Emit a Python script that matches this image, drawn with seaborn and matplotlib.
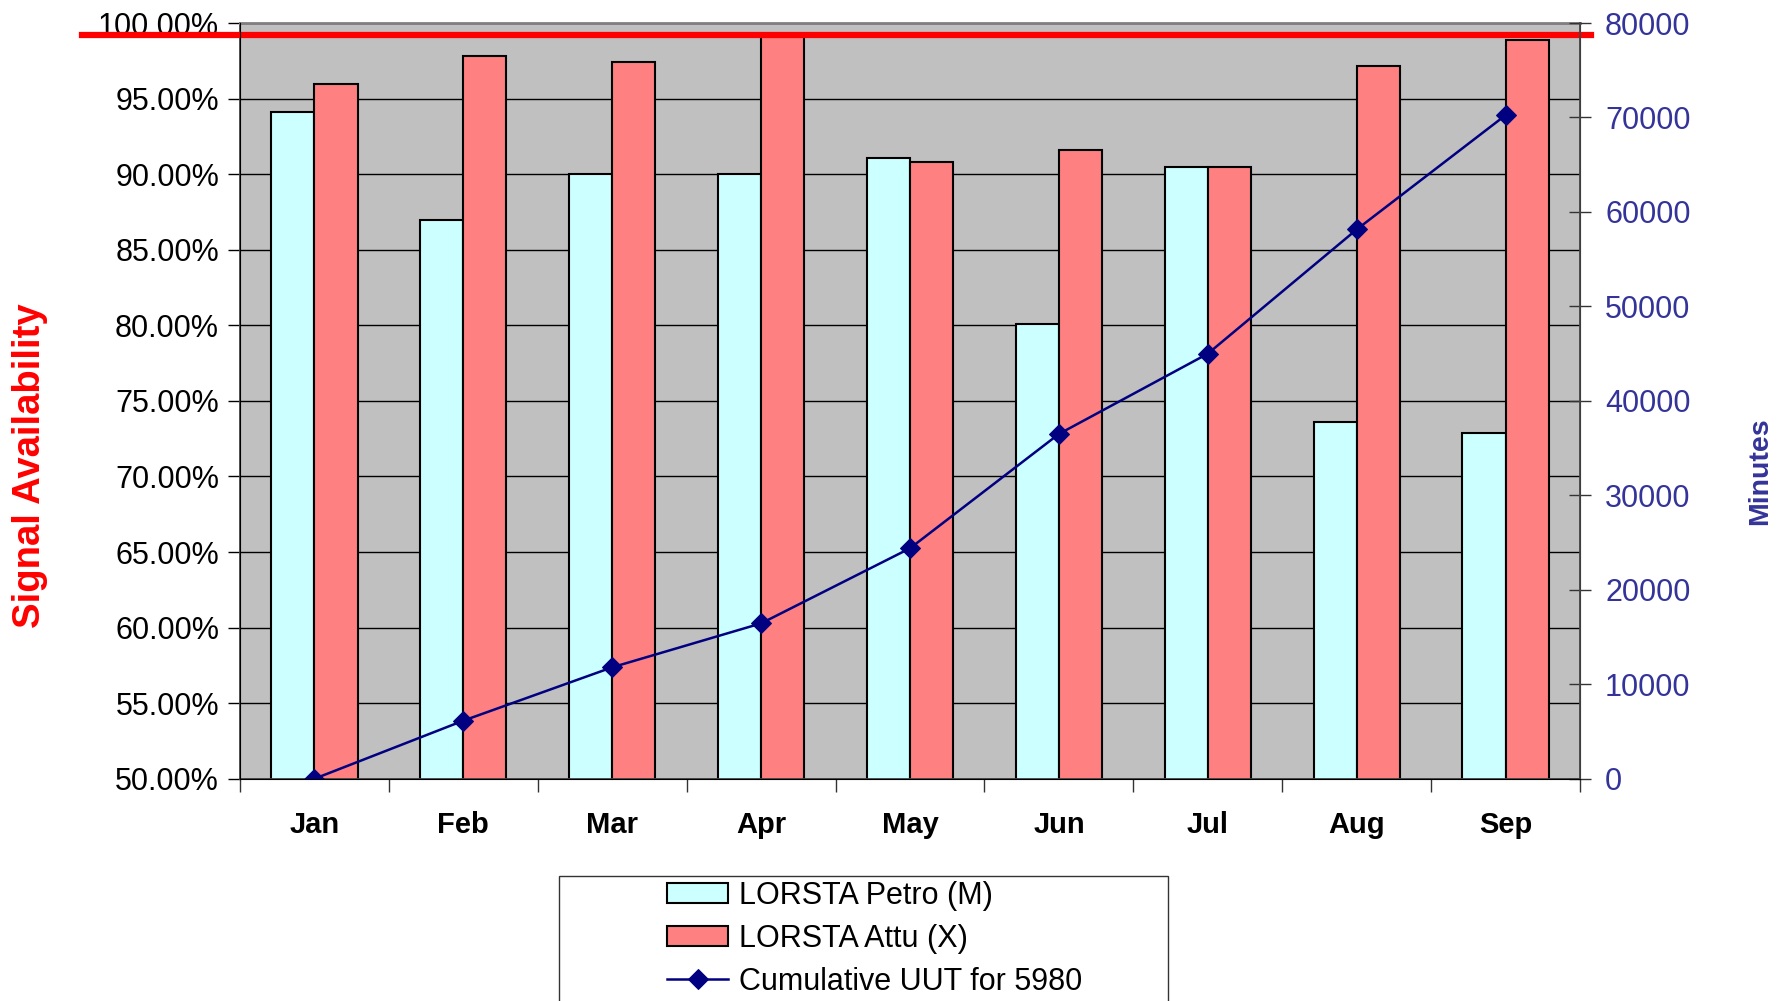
import numpy as np
import pandas as pd
import matplotlib.pyplot as plt
from matplotlib.patches import Rectangle
from matplotlib.ticker import FixedLocator, PercentFormatter
import seaborn as sns

# data
months = ['Jan', 'Feb', 'Mar', 'Apr', 'May', 'Jun', 'Jul', 'Aug', 'Sep']
petro = [94.1, 86.95, 90.0, 90.0, 91.1, 80.1, 90.45, 73.6, 72.85]
attu = [95.95, 97.8, 97.45, 99.2, 90.8, 91.6, 90.45, 97.15, 98.9]
cumulative_uut = [0, 6150, 11800, 16450, 24400, 36500, 45000, 58150, 70250]
target = 99.2
series_names = ['LORSTA Petro (M)', 'LORSTA Attu (X)']
line_name = 'Cumulative UUT for 5980'

plt.rcParams['font.family'] = ['Liberation Sans', 'DejaVu Sans']

df = pd.DataFrame({
    'month': months * 2,
    'value': petro + attu,
    'series': [series_names[0]] * len(months) + [series_names[1]] * len(months),
})

fig = plt.figure(figsize=(17.84, 10.01), dpi=100)
ax = fig.add_axes([0.1345, 0.222, 0.7512, 0.755])
ax.set_facecolor('#C0C0C0')

sns.barplot(data=df, x='month', y='value', hue='series', order=months,
            palette=['#CCFFFF', '#FF8080'], saturation=1, width=0.58,
            edgecolor='black', linewidth=1.5, errorbar=None, ax=ax)
ax.set_ylim(50, 100)
ax.set_xlim(-0.5, len(months) - 0.5)
ax.yaxis.set_major_locator(FixedLocator(np.arange(50, 101, 5)))
ax.yaxis.set_major_formatter(PercentFormatter(decimals=2))
ax.yaxis.grid(True, color='black', linewidth=1)
ax.xaxis.grid(False)
ax.set_axisbelow(True)

# target line, runs out past the plot on the left
ax.axhline(target, xmin=-0.118, xmax=1.008, color='#FF0000', linewidth=4.5,
           clip_on=False, zorder=5)

# ticks on category boundaries, labels in the middle
ax.xaxis.set_minor_locator(FixedLocator(np.arange(-0.5, len(months), 1)))
ax.tick_params(axis='x', which='major', length=0, pad=23, labelsize=21)
ax.tick_params(axis='x', which='minor', length=9, width=1, direction='out', color='#333333')
for lab in ax.get_xticklabels():
    lab.set_fontweight('bold')
ax.tick_params(axis='y', length=9, width=1, direction='out', pad=6, labelsize=22,
               labelcolor='black')
ax.set_xlabel('')
ax.set_ylabel('Signal Availability', color='#FF0000', fontsize=27.5, fontweight='bold')
ax.yaxis.set_label_coords(-0.143, 0.414)

for s in ['left', 'bottom']:
    ax.spines[s].set_color('#444444')
    ax.spines[s].set_linewidth(1.3)
ax.spines['top'].set_color('#808080')
ax.spines['top'].set_linewidth(2)

ax2 = ax.twinx()
sns.lineplot(x=months, y=cumulative_uut, ax=ax2, color='#000080', marker='D',
             markersize=10, markeredgecolor='#000080', linewidth=1.8, label=line_name)
ax2.set_ylim(0, 80000)
ax2.yaxis.set_major_locator(FixedLocator(np.arange(0, 80001, 10000)))
ax2.tick_params(axis='y', length=16, width=1, direction='inout', pad=10,
                labelsize=22, labelcolor='#333399', color='#333333')
ax2.set_ylabel('Minutes', color='#333399', fontsize=20.5, fontweight='bold')
ax2.yaxis.set_label_coords(1.125, 0.407)
ax2.spines['right'].set_color('#444444')
ax2.spines['right'].set_linewidth(1.3)
ax2.spines['top'].set_visible(False)

# legend
h1, l1 = ax.get_legend_handles_labels()
h2, l2 = ax2.get_legend_handles_labels()
if ax.get_legend():
    ax.get_legend().remove()
if ax2.get_legend():
    ax2.get_legend().remove()
leg = fig.legend(h1 + h2, l1 + l2, loc='upper left', bbox_to_anchor=(0.374, 0.12),
                 frameon=False, fontsize=22, borderpad=0, borderaxespad=0,
                 handlelength=2.0, handleheight=0.6, handletextpad=0.35,
                 labelspacing=0.42)
fig.add_artist(Rectangle((0.3133, -0.05), 0.3414, 0.175, transform=fig.transFigure,
                         fill=False, edgecolor='#333333', linewidth=1))

fig.savefig('out.png', dpi=100)
